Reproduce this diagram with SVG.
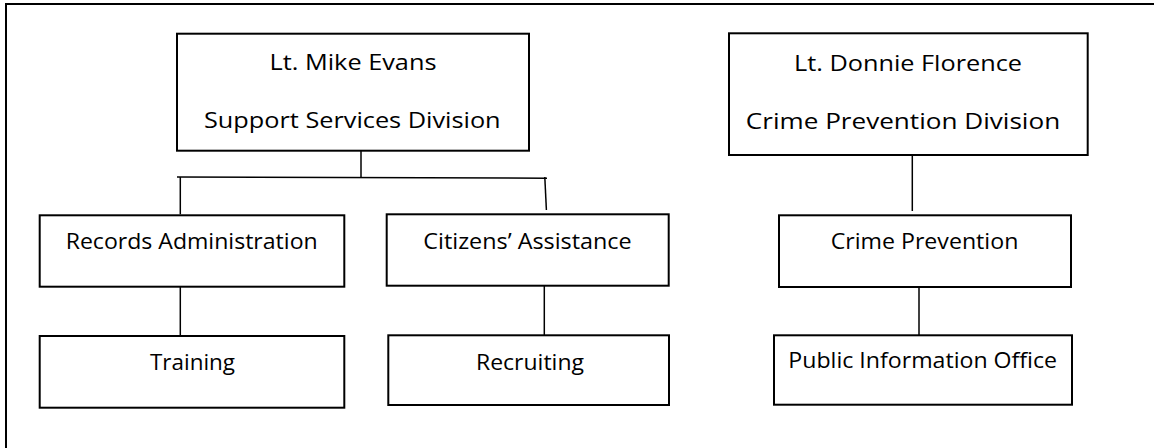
<svg xmlns="http://www.w3.org/2000/svg" width="1154" height="448" viewBox="0 0 1154 448">
  <style>
    .box { fill: #ffffff; stroke: #000000; stroke-width: 2; }
    .lbl { font-family: "Open Sans", "Noto Sans", "Liberation Sans", sans-serif; font-size: 22.5px; fill: #000000; text-anchor: middle; }
    .conn line { stroke: #000000; stroke-width: 1.5; fill: none; }
    .frame { stroke: #000000; stroke-width: 2; fill: none; }
  </style>
  <rect x="0" y="0" width="1154" height="448" fill="#ffffff"/>
  <g id="frame">
    <line class="frame" x1="6" y1="4" x2="1154" y2="4"/>
    <line class="frame" x1="6" y1="3" x2="6" y2="448"/>
  </g>
  <g id="connectors" class="conn">
    <line x1="361" y1="150.7" x2="361" y2="177.5"/>
    <line x1="177" y1="177" x2="547" y2="178.2"/>
    <line x1="180.3" y1="177" x2="180.3" y2="214.3"/>
    <line x1="544.8" y1="177" x2="546.4" y2="210"/>
    <line x1="180.3" y1="286.7" x2="180.3" y2="336"/>
    <line x1="544.3" y1="285.7" x2="544.3" y2="335.3"/>
    <line x1="912.3" y1="150.7" x2="912.3" y2="211"/>
    <line x1="919" y1="287" x2="919" y2="335.3"/>
  </g>
  <g id="mike-evans">
    <rect class="box" x="177" y="33.7" width="352" height="117"/>
    <text class="lbl" x="353" y="70" textLength="167" lengthAdjust="spacingAndGlyphs">Lt. Mike Evans</text>
    <text class="lbl" x="352.3" y="128.3" textLength="296.7" lengthAdjust="spacingAndGlyphs">Support Services Division</text>
  </g>
  <g id="donnie-florence">
    <rect class="box" x="729" y="33.3" width="358.7" height="121.7"/>
    <text class="lbl" x="908" y="70.7" textLength="228" lengthAdjust="spacingAndGlyphs">Lt. Donnie Florence</text>
    <text class="lbl" x="903" y="129" textLength="314.3" lengthAdjust="spacingAndGlyphs">Crime Prevention Division</text>
  </g>
  <g id="records-administration">
    <rect class="box" x="39.7" y="215.3" width="304.6" height="71.4"/>
    <text class="lbl" x="191.7" y="249" textLength="252" lengthAdjust="spacingAndGlyphs">Records Administration</text>
  </g>
  <g id="citizens-assistance">
    <rect class="box" x="386.7" y="214.3" width="282" height="71.4"/>
    <text class="lbl" x="527.5" y="249" textLength="208.3" lengthAdjust="spacingAndGlyphs">Citizens’ Assistance</text>
  </g>
  <g id="crime-prevention">
    <rect class="box" x="779" y="215.3" width="292" height="71.7"/>
    <text class="lbl" x="924.5" y="249.3" textLength="187.7" lengthAdjust="spacingAndGlyphs">Crime Prevention</text>
  </g>
  <g id="training">
    <rect class="box" x="39.7" y="336" width="304.6" height="71.7"/>
    <text class="lbl" x="192.5" y="370" textLength="85" lengthAdjust="spacingAndGlyphs">Training</text>
  </g>
  <g id="recruiting">
    <rect class="box" x="388.3" y="335.3" width="280.7" height="69.7"/>
    <text class="lbl" x="530" y="370" textLength="108" lengthAdjust="spacingAndGlyphs">Recruiting</text>
  </g>
  <g id="public-information-office">
    <rect class="box" x="774" y="335.3" width="298" height="69.4"/>
    <text class="lbl" x="922.7" y="368.3" textLength="268.7" lengthAdjust="spacingAndGlyphs">Public Information Office</text>
  </g>
</svg>
